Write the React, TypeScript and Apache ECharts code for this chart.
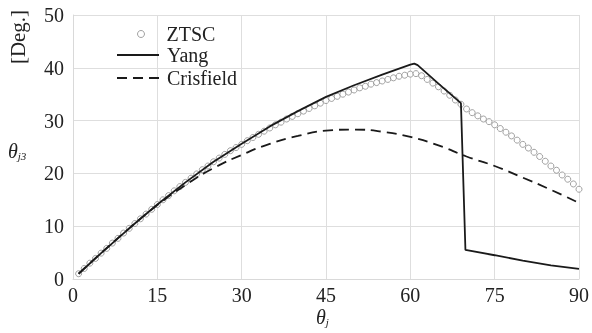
import React, { useEffect, useRef } from "react";
import * as echarts from "echarts";

const ztscTheta = [
  1, 2, 3, 4, 5, 6, 7, 8, 9, 10, 11, 12, 13, 14, 15, 16, 17, 18, 19, 20,
  21, 22, 23, 24, 25, 26, 27, 28, 29, 30, 31, 32, 33, 34, 35, 36, 37, 38, 39, 40,
  41, 42, 43, 44, 45, 46, 47, 48, 49, 50, 51, 52, 53, 54, 55, 56, 57, 58, 59, 60,
  61, 62, 63, 64, 65, 66, 67, 68, 69, 70, 71, 72, 73, 74, 75, 76, 77, 78, 79, 80,
  81, 82, 83, 84, 85, 86, 87, 88, 89, 90,
];
const ztscValues = [
  1.0, 2.0, 3.0, 3.9, 4.9, 5.8, 6.8, 7.7, 8.7, 9.6,
  10.5, 11.4, 12.3, 13.2, 14.1, 15.0, 15.8, 16.7, 17.5, 18.3,
  19.1, 19.9, 20.7, 21.4, 22.2, 22.9, 23.6, 24.3, 24.9, 25.5,
  26.2, 26.8, 27.4, 28.0, 28.6, 29.2, 29.7, 30.3, 30.8, 31.3,
  31.8, 32.3, 32.8, 33.3, 33.8, 34.2, 34.6, 35.0, 35.4, 35.8,
  36.2, 36.5, 36.9, 37.2, 37.5, 37.8, 38.1, 38.4, 38.6, 38.8,
  38.9, 38.5, 37.8, 37.1, 36.4, 35.6, 34.8, 33.9, 33.1, 32.2,
  31.5, 30.9, 30.3, 29.8, 29.2, 28.5, 27.8, 27.1, 26.3, 25.5,
  24.8, 24.0, 23.2, 22.3, 21.4, 20.6, 19.7, 18.9, 18.0, 17.0,
];

const yangTheta = [1, 5, 10, 15, 20, 25, 30, 35, 40, 45, 50, 55, 60, 60.7, 61.3, 65, 69, 69.8, 75, 80, 85, 90];
const yangValues = [1.0, 4.9, 9.6, 14.1, 18.3, 22.2, 25.6, 28.9, 31.8, 34.5, 36.7, 38.7, 40.6, 40.8, 40.5, 37.0, 33.3, 5.5, 4.5, 3.5, 2.6, 1.9];

const crisTheta = [1, 5, 10, 15, 20, 25, 30, 35, 40, 45, 50, 55, 60, 65, 70, 75, 80, 85, 90];
const crisValues = [1.0, 4.9, 9.6, 14.0, 17.8, 21.0, 23.5, 25.6, 27.1, 28.1, 28.3, 27.9, 26.9, 25.3, 23.2, 21.4, 19.2, 16.9, 14.4];

const xTicks = [0, 15, 30, 45, 60, 75, 90];
const yTicks = [0, 10, 20, 30, 40, 50];

const FONT = "Liberation Serif";
const TXT = "#222";

export default function App() {
  const ref = useRef<HTMLDivElement>(null);
  useEffect(() => {
    const chart = echarts.init(ref.current!, null, { renderer: "svg" });
    const zip = (xs: number[], ys: number[]) => xs.map((x, i) => [x, ys[i]]);
    chart.setOption({
      animation: false,
      grid: { left: 73, right: 13, top: 15, bottom: 54 },
      xAxis: {
        type: "value",
        min: xTicks[0],
        max: xTicks[xTicks.length - 1],
        interval: 15,
        axisLine: { show: true, lineStyle: { color: "#d9d9d9" } },
        axisTick: { show: false },
        splitLine: { show: true, lineStyle: { color: "#dedede" } },
        axisLabel: { fontFamily: FONT, fontSize: 20, color: TXT, margin: 6 },
      },
      yAxis: {
        type: "value",
        min: yTicks[0],
        max: yTicks[yTicks.length - 1],
        interval: 10,
        axisLine: { show: true, lineStyle: { color: "#d9d9d9" } },
        axisTick: { show: false },
        splitLine: { show: true, lineStyle: { color: "#dedede" } },
        axisLabel: { fontFamily: FONT, fontSize: 20, color: TXT, margin: 9 },
      },
      legend: [
        {
          data: ["ZTSC"],
          orient: "vertical",
          left: 132,
          top: 19,
          itemWidth: 7,
          itemHeight: 7,
          icon: "circle",
          itemStyle: { color: "#fff", borderColor: "#8a8a8a", borderWidth: 1 },
          textStyle: { fontFamily: FONT, fontSize: 20, color: TXT, lineHeight: 20, padding: [0, 0, 0, 17] },
        },
        {
          data: ["Yang", "Crisfield"],
          orient: "vertical",
          left: 111,
          top: 40,
          itemGap: 3,
          itemWidth: 42,
          itemHeight: 14,
          itemStyle: { opacity: 0 },
          textStyle: { fontFamily: FONT, fontSize: 20, color: TXT, lineHeight: 20, padding: [0, 0, 0, 3] },
        },
      ],
      series: [
        {
          name: "ZTSC",
          type: "scatter",
          data: zip(ztscTheta, ztscValues),
          symbol: "circle",
          symbolSize: 6,
          itemStyle: { color: "#fff", borderColor: "#8a8a8a", borderWidth: 1 },
          z: 2,
        },
        {
          name: "Yang",
          type: "line",
          data: zip(yangTheta, yangValues),
          showSymbol: false,
          symbol: "none",
          lineStyle: { color: "#1a1a1a", width: 1.8 },
          itemStyle: { color: "#1a1a1a" },
          z: 3,
        },
        {
          name: "Crisfield",
          type: "line",
          data: zip(crisTheta, crisValues),
          smooth: true,
          showSymbol: false,
          symbol: "none",
          lineStyle: { color: "#1a1a1a", width: 1.8, type: [10, 6] },
          itemStyle: { color: "#1a1a1a" },
          z: 3,
        },
      ],
      graphic: [
        {
          type: "text",
          x: 18,
          y: 37,
          rotation: Math.PI / 2,
          style: {
            text: "[Deg.]",
            font: `21px "${FONT}"`,
            fill: TXT,
            align: "center",
            verticalAlign: "middle",
          },
        },
        {
          type: "text",
          x: 8,
          y: 151,
          style: {
            text: "{a|θ}{b|j3}",
            fill: TXT,
            verticalAlign: "middle",
            rich: {
              a: { fontFamily: FONT, fontStyle: "italic", fontSize: 20, fill: TXT, color: TXT },
              b: { fontFamily: FONT, fontStyle: "italic", fontSize: 11, fill: TXT, color: TXT, padding: [10, 0, 0, 0] },
            },
          },
        },
        {
          type: "text",
          x: 316,
          y: 317,
          style: {
            text: "{a|θ}{b|j}",
            fill: TXT,
            verticalAlign: "middle",
            rich: {
              a: { fontFamily: FONT, fontStyle: "italic", fontSize: 20, fill: TXT, color: TXT },
              b: { fontFamily: FONT, fontStyle: "italic", fontSize: 11, fill: TXT, color: TXT, padding: [10, 0, 0, 0] },
            },
          },
        },
      ],
    });
    return () => chart.dispose();
  }, []);
  return <div ref={ref} style={{ position: "fixed", left: 0, top: 0, width: 592, height: 333 }} />;
}
